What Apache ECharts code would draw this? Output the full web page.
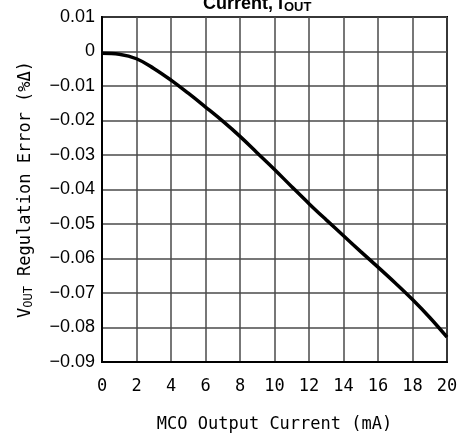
<!DOCTYPE html>
<html>
<head>
<meta charset="utf-8">
<script src="https://cdn.jsdelivr.net/npm/echarts@6/dist/echarts.min.js"></script>
<style>html,body{margin:0;padding:0;background:#fff}#c{width:458px;height:434px}</style>
</head>
<body>
<div id="c"></div>
<script>
// Data
const currentMA = [0,1,2,3,4,5,6,7,8,9,10,11,12,13,14,15,16,17,18,19,20];
const regulationError = [-0.0005,-0.0008,-0.0021,-0.0049,-0.0083,-0.0121,-0.0161,-0.0202,-0.0246,-0.0294,-0.0342,-0.0392,-0.0441,-0.0488,-0.0534,-0.0580,-0.0625,-0.0671,-0.0719,-0.0771,-0.0828];
const yTickLabels = ['0.01','0','\u22120.01','\u22120.02','\u22120.03','\u22120.04','\u22120.05','\u22120.06','\u22120.07','\u22120.08','\u22120.09'];
const xTickLabels = ['0','2','4','6','8','10','12','14','16','18','20'];

const chart = echarts.init(document.getElementById('c'), null, {renderer:'canvas'});
const mono = '"DejaVu Sans Mono", monospace';
chart.setOption({
  animation:false,
  backgroundColor:'#fff',
  title:{
    text:'{a|Current, I}{s|OUT}',
    left:198, top:-10,
    textStyle:{
      rich:{
        a:{fontFamily:'"Liberation Sans", Arial, sans-serif',fontWeight:'bold',fontSize:18,color:'#000',lineHeight:18},
        s:{fontFamily:'"Liberation Sans", Arial, sans-serif',fontWeight:'bold',fontSize:13,color:'#000',padding:[6,0,0,1],lineHeight:13}
      }
    }
  },
  grid:{left:102,right:11,top:17,bottom:72,containLabel:false,outerBoundsMode:'none',show:true,borderColor:'#000',borderWidth:2,backgroundColor:'transparent'},
  xAxis:{
    type:'value',min:0,max:20,interval:2,
    name:'MCO Output Current (mA)',nameLocation:'middle',nameGap:54,
    nameTextStyle:{fontFamily:mono,fontSize:17,color:'#000'},
    axisLine:{show:true,onZero:false,lineStyle:{color:'#000',width:2}},
    axisTick:{show:false},
    axisLabel:{margin:16,fontFamily:mono,fontSize:17,color:'#000',
      formatter:function(v){return xTickLabels[Math.round(v/2)];}},
    splitLine:{show:true,lineStyle:{color:'#4a4a4a',width:1.5}}
  },
  yAxis:{
    type:'value',min:-0.09,max:0.01,interval:0.01,
    name:'{v|V}{s|OUT}{v| Regulation Error (%\u0394)}',nameLocation:'middle',nameGap:68,
    nameTextStyle:{
      rich:{
        v:{fontFamily:mono,fontSize:17,color:'#000',lineHeight:17},
        s:{fontFamily:mono,fontSize:12,color:'#000',padding:[6,0,0,0],lineHeight:12}
      }
    },
    axisLine:{show:true,onZero:false,lineStyle:{color:'#000',width:2}},
    axisTick:{show:false},
    axisLabel:{margin:7,fontFamily:'"Liberation Sans", Arial, sans-serif',fontSize:18,color:'#000',
      formatter:function(v){return yTickLabels[Math.round((0.01-v)*100)];}},
    splitLine:{show:true,lineStyle:{color:'#4a4a4a',width:1.5}}
  },
  series:[{
    type:'line',
    data:currentMA.map((x,i)=>[x,regulationError[i]]),
    smooth:0.4,
    showSymbol:false,
    lineStyle:{color:'#000',width:3.5},
    z:5
  }]
});
</script>
</body>
</html>
